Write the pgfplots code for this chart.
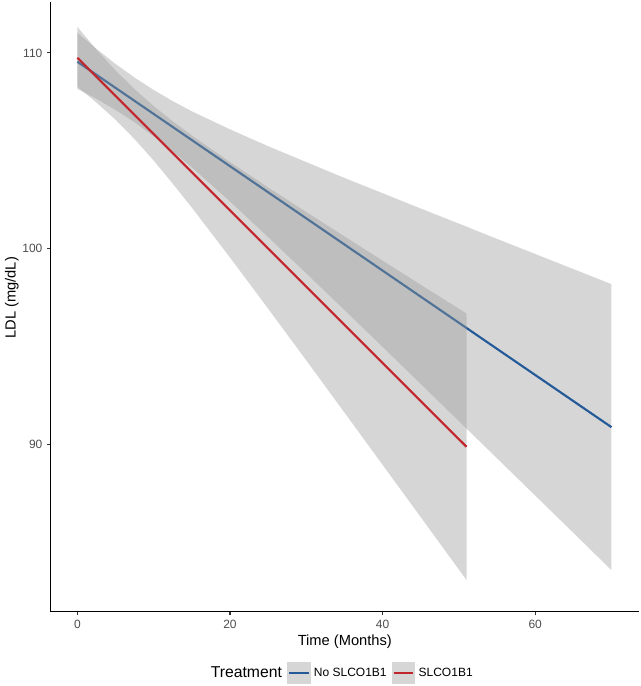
\documentclass[border=0pt]{standalone}
\usepackage{pgfplots}
\pgfplotsset{compat=1.18}
\usepackage{fontspec}
\setmainfont{Liberation Sans}
\definecolor{lblue}{HTML}{245A98}
\definecolor{lred}{HTML}{C0272D}
\definecolor{rib}{RGB}{153,153,153}
\definecolor{tickgrey}{RGB}{77,77,77}
\begin{document}
\begin{tikzpicture}
\path[use as bounding box] (-38pt,-55.7pt) rectangle (442pt,458.8pt);
\begin{axis}[
  at={(0pt,0pt)}, anchor=south west,
  scale only axis, width=441.2pt, height=457.3pt,
  xmin=-3.5, xmax=73.6, ymin=81.48, ymax=112.6,
  axis x line=bottom, axis y line=left,
  axis line style={-, black, line width=0.9pt},
  xtick={0,20,40,60}, ytick={90,100,110},
  tick align=outside, major tick length=2.7pt,
  tick style={black!80, line width=0.8pt},
  /pgf/number format/assume math mode=true,
  ticklabel style={font=\fontsize{9}{10}\selectfont, text=tickgrey},
  xlabel={Time (Months)}, ylabel={LDL (mg/dL)},
  label style={font=\fontsize{11}{13}\selectfont},
  xlabel style={at={(axis description cs:0.5,-0.0492)}, anchor=center},
  ylabel style={at={(axis description cs:-0.066,0.515)}, anchor=center},
  legend style={at={(axis description cs:0.492,-0.1005)}, anchor=center,
    draw=none, fill=none, legend columns=-1,
    font=\fontsize{9}{10}\selectfont,
    nodes={inner sep=0pt},
    /tikz/every odd column/.append style={column sep=2.5pt},
    /tikz/every even column/.append style={column sep=4pt}},
]
\addlegendimage{empty legend}
\addlegendentry{\fontsize{11.8}{13}\selectfont Treatment}
% No SLCO1B1 ribbon
\addplot[draw=none, fill=rib, fill opacity=0.4, forget plot] coordinates {
(0,111.03) (2.5,110.21) (5,109.44) (7.5,108.74) (10,108.11) (12.5,107.54) (15,107.02) (20,106.10) (25,105.24) (30,104.43) (35,103.62) (40,102.84) (45,102.06) (50,101.29) (55,100.51) (60,99.74) (65,98.97) (70,98.20)
(70,83.60) (65,85.51) (60,87.41) (55,89.31) (50,91.21) (45,93.10) (40,95.00) (35,96.88) (30,98.75) (25,100.60) (20,102.42) (15,104.16) (12.5,104.98) (10,105.75) (7.5,106.46) (5,107.09) (2.5,107.66) (0,108.17)
} -- cycle;
\addplot[lblue, line width=1.6pt,
  legend image code/.code={\path[draw=none, fill=rib, fill opacity=0.4] (0pt,-8.1pt) rectangle (17.5pt,8.1pt);
  \draw[lblue, line width=1.6pt] (1.5pt,0pt) -- (16pt,0pt);}] coordinates {(0,109.55) (70,90.9)};
\addlegendentry{No SLCO1B1}
% SLCO1B1 ribbon
\addplot[draw=none, fill=rib, fill opacity=0.4, forget plot] coordinates {
(0,111.33) (2.5,110.17) (5,109.11) (7.5,108.15) (10,107.29) (12.5,106.51) (15,105.79) (20,104.43) (25,103.14) (30,101.88) (35,100.64) (40,99.40) (45,98.17) (51,96.70)
(51,83.10) (45,86.31) (40,88.98) (35,91.65) (30,94.31) (25,96.95) (20,99.56) (15,102.11) (12.5,103.33) (10,104.51) (7.5,105.60) (5,106.59) (2.5,107.47) (0,108.27)
} -- cycle;
\addplot[lred, line width=1.6pt,
  legend image code/.code={\path[draw=none, fill=rib, fill opacity=0.4] (0pt,-8.1pt) rectangle (17.5pt,8.1pt);
  \draw[lred, line width=1.6pt] (1.5pt,0pt) -- (16pt,0pt);}] coordinates {(0,109.75) (51,89.9)};
\addlegendentry{SLCO1B1}
\end{axis}
\end{tikzpicture}
\end{document}
